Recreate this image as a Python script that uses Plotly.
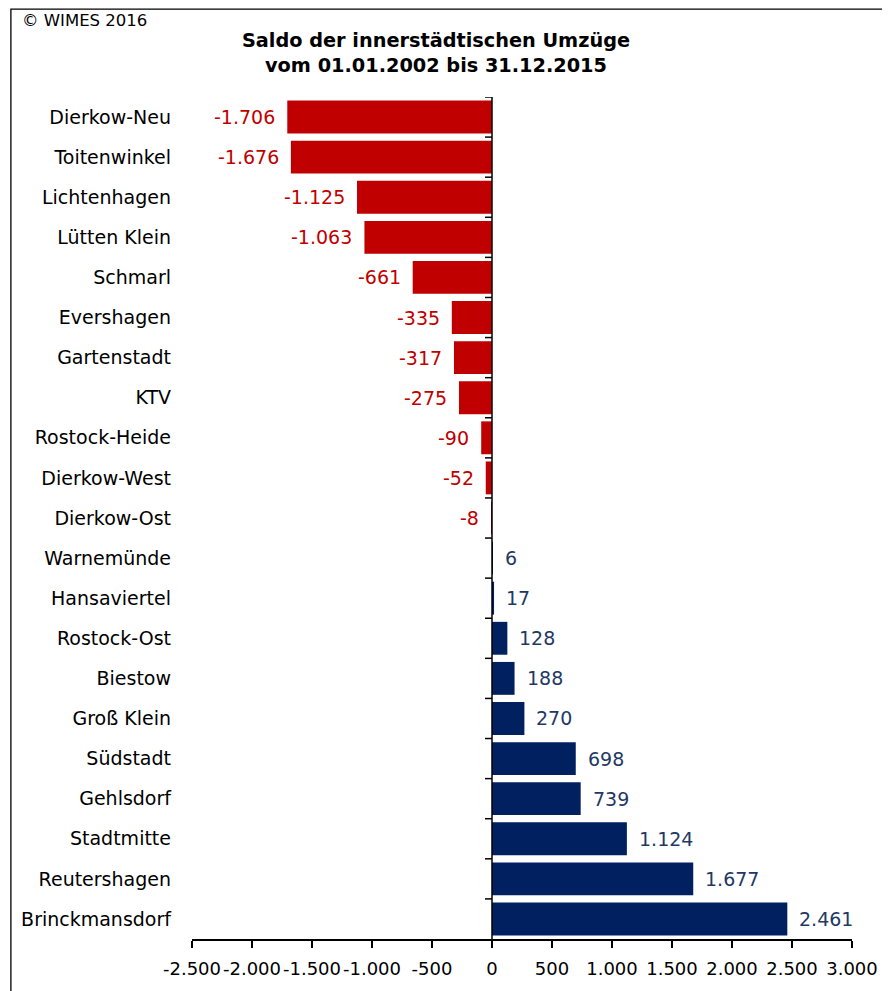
import plotly.graph_objects as go

categories = ["Dierkow-Neu", "Toitenwinkel", "Lichtenhagen", "Lütten Klein", "Schmarl",
              "Evershagen", "Gartenstadt", "KTV", "Rostock-Heide", "Dierkow-West",
              "Dierkow-Ost", "Warnemünde", "Hansaviertel", "Rostock-Ost", "Biestow",
              "Groß Klein", "Südstadt", "Gehlsdorf", "Stadtmitte", "Reutershagen",
              "Brinckmansdorf"]
values = [-1706, -1676, -1125, -1063, -661, -335, -317, -275, -90, -52, -8,
          6, 17, 128, 188, 270, 698, 739, 1124, 1677, 2461]
tick_values = [-2500, -2000, -1500, -1000, -500, 0, 500, 1000, 1500, 2000, 2500, 3000]
tick_labels = ["-2.500", "-2.000", "-1.500", "-1.000", "-500", "0", "500",
               "1.000", "1.500", "2.000", "2.500", "3.000"]

RED = "#C00000"
NAVY = "#002060"
RED_TXT = "#C00000"
NAVY_TXT = "#1F3864"
FONT = "DejaVu Sans"


def de_fmt(v):
    return f"{v:,}".replace(",", ".")


OFF = 8  # page body margin
W, H = 890 - OFF, 991 - OFF
ML, MR, MT, MB = 192 - OFF, 30, 97 - OFF, 48
PW, PH = W - ML - MR, H - MT - MB

colors = [RED if v < 0 else NAVY for v in values]

fig = go.Figure(go.Bar(
    x=values, y=categories, orientation="h",
    marker=dict(color=colors, line=dict(width=0)),
    hoverinfo="x+y",
))

annotations = []
for c, v in zip(categories, values):
    neg = v < 0
    annotations.append(dict(
        x=v, y=c, xref="x", yref="y", text=de_fmt(v), showarrow=False,
        xanchor="right" if neg else "left", yanchor="middle",
        xshift=-10 if neg else 10,
        font=dict(family=FONT, size=19, color=RED_TXT if neg else NAVY_TXT),
    ))

annotations.append(dict(
    x=(18 - OFF - ML) / PW, y=1 + (MT - (20 - OFF)) / PH, xref="paper", yref="paper",
    text="© WIMES 2016", showarrow=False, xanchor="left", yanchor="middle",
    font=dict(family=FONT, size=16.5, color="black"),
))

shapes = []
# vertical axis line at zero
shapes.append(dict(type="line", xref="x", yref="paper", x0=0, x1=0, y0=0, y1=1,
                   line=dict(color="black", width=1.5), layer="above"))
# boundary ticks on the zero axis
for i in range(len(categories)):
    shapes.append(dict(type="line", xref="x", xsizemode="pixel", xanchor=0,
                       x0=-7, x1=0, yref="y", y0=i - 0.5, y1=i - 0.5,
                       line=dict(color="black", width=1.5), layer="above"))
# outer frame
shapes.append(dict(type="rect", xref="paper", yref="paper",
                   x0=(0.7 - ML) / PW, x1=(W + 20 - ML) / PW,
                   y0=-(MB + 20) / PH, y1=1 + (MT - 0.7) / PH,
                   line=dict(color="black", width=1.3), fillcolor="rgba(0,0,0,0)",
                   layer="below"))

fig.update_layout(
    width=W, height=H,
    margin=dict(l=ML, r=MR, t=MT, b=MB, pad=0),
    paper_bgcolor="white", plot_bgcolor="white",
    bargap=0.18,
    showlegend=False,
    title=dict(
        text="Saldo der innerstädtischen Umzüge<br>vom 01.01.2002 bis 31.12.2015",
        x=(436 - OFF) / W, xref="container", xanchor="center",
        y=1 - (47 - OFF) / H, yref="container", yanchor="middle",
        font=dict(family=FONT, size=19.3, color="black", weight="bold"),
    ),
    xaxis=dict(
        range=[-2500, 3000], tickvals=tick_values, ticktext=tick_labels,
        tickangle=0, showgrid=False, zeroline=False,
        showline=True, linecolor="black", linewidth=1.5,
        ticks="outside", ticklen=7, tickwidth=1.5, tickcolor="black",
        ticklabelstandoff=6,
        tickfont=dict(family=FONT, size=18, color="black"),
        fixedrange=True,
    ),
    yaxis=dict(
        range=[len(categories) - 0.5, -0.5], type="category",
        categoryorder="array", categoryarray=categories,
        showgrid=False, zeroline=False, showline=False, ticks="",
        ticklabelstandoff=20,
        tickfont=dict(family=FONT, size=19, color="black"),
        fixedrange=True,
    ),
    annotations=annotations,
    shapes=shapes,
)

fig.write_html("out.html")
